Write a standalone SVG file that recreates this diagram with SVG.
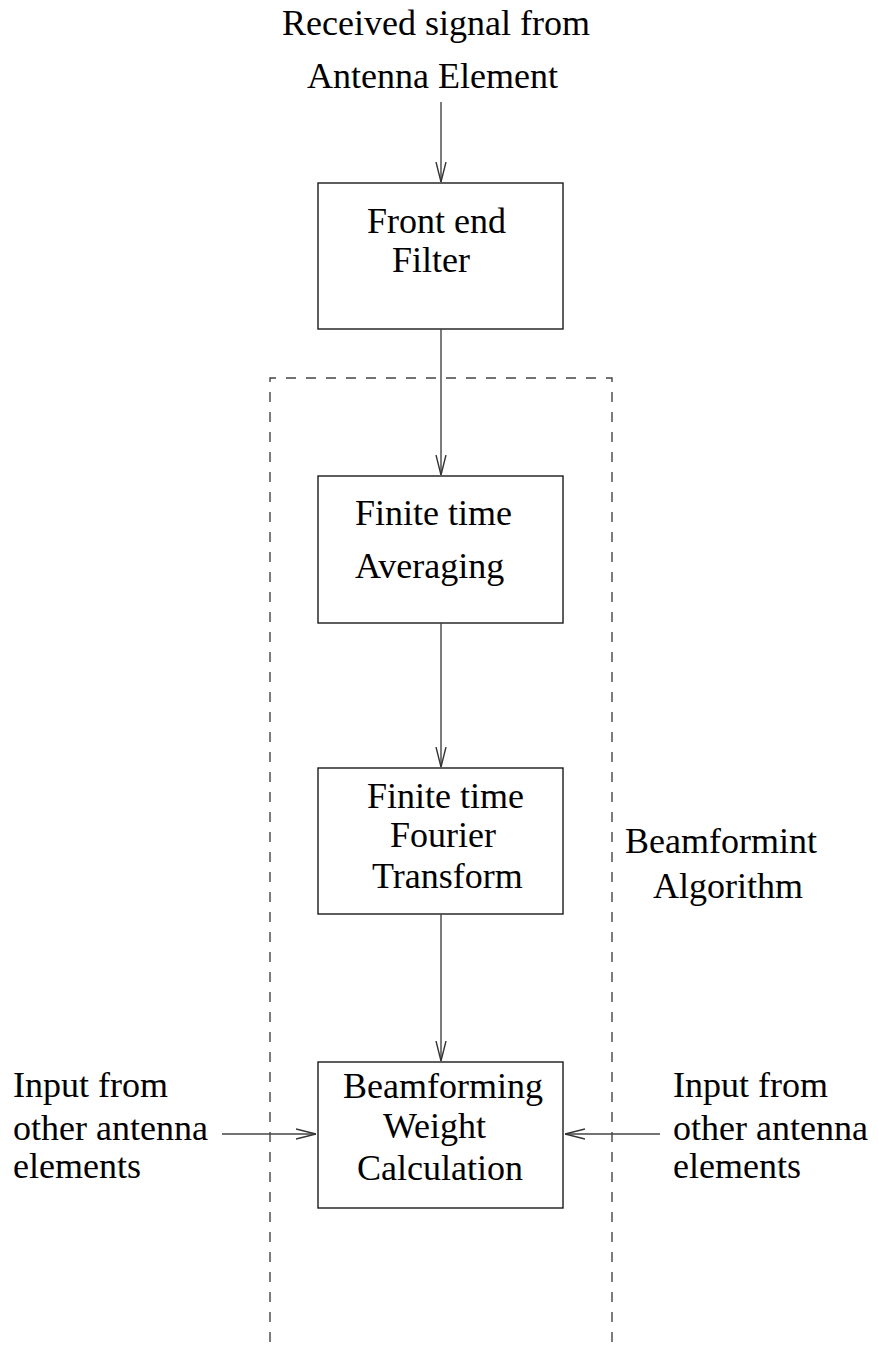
<svg xmlns="http://www.w3.org/2000/svg" width="878" height="1353" viewBox="0 0 878 1353">
  <style>
    text { font-family: "Liberation Serif", "Times New Roman", serif; font-size: 36px; fill: #000; }
    .box { fill: none; stroke: #1a1a1a; stroke-width: 1.4; }
    .wire { fill: none; stroke: #444; stroke-width: 1.4; }
    .boundary { fill: none; stroke: #444; stroke-width: 1.4; stroke-dasharray: 10 10; }
  </style>
  <defs>
    <marker id="vee" viewBox="0 0 20 12" refX="20" refY="6" markerWidth="20" markerHeight="12" markerUnits="userSpaceOnUse" orient="auto">
      <path d="M0,1 L20,6 L0,11" fill="none" stroke="#333" stroke-width="1.4"/>
    </marker>
  </defs>

  <rect width="878" height="1353" fill="#fff"/>

  <!-- beamforming algorithm boundary (open at the bottom) -->
  <path class="boundary" d="M270,1342 V378 H612 V1342"/>

  <g id="source-label">
    <text x="282" y="35">Received signal from</text>
    <text x="307" y="88">Antenna Element</text>
  </g>

  <g id="front-end-filter">
    <rect class="box" x="318" y="183" width="245" height="146"/>
    <text x="367" y="233">Front end</text>
    <text x="392" y="272">Filter</text>
  </g>

  <g id="averaging">
    <rect class="box" x="318" y="476" width="245" height="147"/>
    <text x="355" y="525">Finite time</text>
    <text x="355" y="578">Averaging</text>
  </g>

  <g id="fourier">
    <rect class="box" x="318" y="768" width="245" height="146"/>
    <text x="367" y="808">Finite time</text>
    <text x="390" y="847">Fourier</text>
    <text x="372" y="888">Transform</text>
  </g>

  <g id="weights">
    <rect class="box" x="318" y="1062" width="245" height="146"/>
    <text x="343" y="1098">Beamforming</text>
    <text x="383" y="1138">Weight</text>
    <text x="357" y="1180">Calculation</text>
  </g>

  <g id="algorithm-label">
    <text x="625" y="853">Beamformint</text>
    <text x="653" y="898">Algorithm</text>
  </g>

  <g id="left-input">
    <text x="13" y="1097">Input from</text>
    <text x="13" y="1140">other antenna</text>
    <text x="13" y="1178">elements</text>
  </g>

  <g id="right-input">
    <text x="673" y="1097">Input from</text>
    <text x="673" y="1140">other antenna</text>
    <text x="673" y="1178">elements</text>
  </g>

  <g id="connectors">
    <line class="wire" x1="441" y1="102" x2="441" y2="182" marker-end="url(#vee)"/>
    <line class="wire" x1="441" y1="329" x2="441" y2="475" marker-end="url(#vee)"/>
    <line class="wire" x1="441" y1="623" x2="441" y2="767" marker-end="url(#vee)"/>
    <line class="wire" x1="441" y1="914" x2="441" y2="1061" marker-end="url(#vee)"/>
    <line class="wire" x1="222" y1="1134" x2="316" y2="1134" marker-end="url(#vee)"/>
    <line class="wire" x1="660" y1="1134" x2="565" y2="1134" marker-end="url(#vee)"/>
  </g>
</svg>
